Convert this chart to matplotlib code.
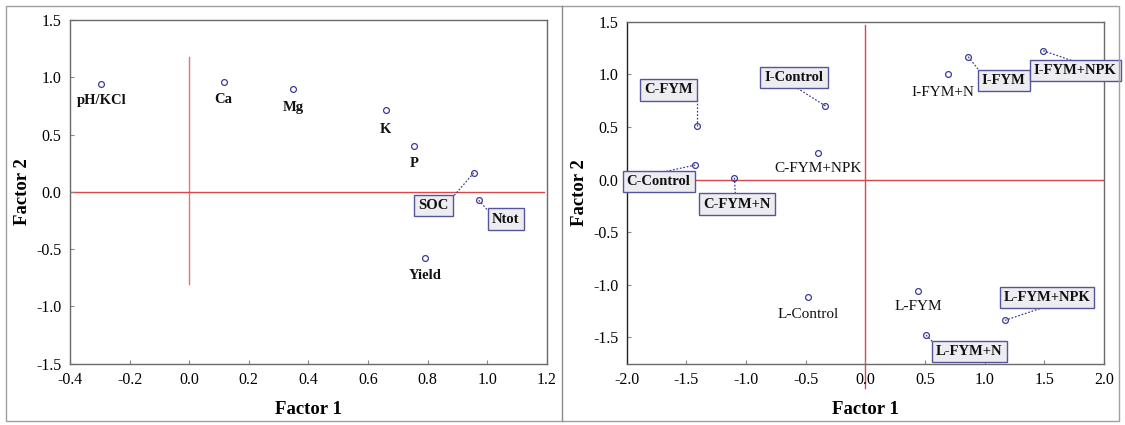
import matplotlib
matplotlib.use("Agg")
import matplotlib.pyplot as plt
from matplotlib.patches import Rectangle
from matplotlib.lines import Line2D

# ---------------- data ----------------
var_names = ["pH/KCl", "Ca", "Mg", "K", "P", "SOC", "Ntot", "Yield"]
var_f1 = [-0.297, 0.116, 0.350, 0.660, 0.754, 0.955, 0.972, 0.790]
var_f2 = [0.938, 0.955, 0.894, 0.711, 0.396, 0.165, -0.073, -0.580]

trt_names = ["C-FYM", "C-Control", "C-FYM+N", "I-Control", "C-FYM+NPK",
             "I-FYM+N", "I-FYM", "I-FYM+NPK", "L-Control", "L-FYM",
             "L-FYM+N", "L-FYM+NPK"]
trt_f1 = [-1.411, -1.426, -1.097, -0.334, -0.397, 0.690, 0.862, 1.490,
          -0.478, 0.442, 0.509, 1.170]
trt_f2 = [0.511, 0.138, 0.017, 0.699, 0.249, 1.003, 1.167, 1.224,
          -1.114, -1.063, -1.478, -1.338]

left_xticks = [-0.4, -0.2, 0.0, 0.2, 0.4, 0.6, 0.8, 1.0, 1.2]
left_yticks = [-1.5, -1.0, -0.5, 0.0, 0.5, 1.0, 1.5]
right_xticks = [-2.0, -1.5, -1.0, -0.5, 0.0, 0.5, 1.0, 1.5, 2.0]
right_yticks = [-1.5, -1.0, -0.5, 0.0, 0.5, 1.0, 1.5]

# ---------------- layout (label placement) ----------------
# label: (text x, text y, boxed, leader end x, leader end y or None)
left_layout = {
    "pH/KCl": (-0.292, 0.80, False, None, None),
    "Ca": (0.116, 0.81, False, None, None),
    "Mg": (0.350, 0.737, False, None, None),
    "K": (0.660, 0.548, False, None, None),
    "P": (0.754, 0.247, False, None, None),
    "SOC": (0.820, -0.117, True, 0.885, -0.045),
    "Ntot": (1.063, -0.237, True, 1.000, -0.155),
    "Yield": (0.791, -0.728, False, None, None),
}
right_layout = {
    "C-FYM": (-1.648, 0.851, True, -1.411, 0.77),
    "C-Control": (-1.733, -0.016, True, -1.683, 0.074),
    "C-FYM+N": (-1.075, -0.233, True, -1.090, -0.14),
    "I-Control": (-0.598, 0.967, True, -0.581, 0.876),
    "C-FYM+NPK": (-0.397, 0.106, False, None, None),
    "I-FYM+N": (0.648, 0.825, False, None, None),
    "I-FYM": (1.159, 0.938, True, 0.958, 1.03),
    "I-FYM+NPK": (1.759, 1.033, True, 1.759, 1.12),
    "L-Control": (-0.481, -1.281, False, None, None),
    "L-FYM": (0.448, -1.209, False, None, None),
    "L-FYM+N": (0.872, -1.637, True, 0.566, -1.545),
    "L-FYM+NPK": (1.522, -1.122, True, 1.532, -1.20),
}

FONT = ["Liberation Serif", "DejaVu Serif"]
plt.rcParams["font.family"] = FONT
plt.rcParams["axes.unicode_minus"] = False
MARK = "#3c3c9c"
RED = "#d9474b"
BOXFACE = "#ececf1"
BOXEDGE = "#55559a"

fig = plt.figure(figsize=(11.25, 4.25), dpi=100)

ax1 = fig.add_axes([70 / 1125, 1 - 363.7 / 425, 476.7 / 1125, 343.7 / 425])
ax2 = fig.add_axes([626.7 / 1125, 1 - 363.7 / 425, 477.3 / 1125, 342.0 / 425])


def style_axes(ax, xticks, yticks, xlim, ylim):
    ax.set_xlim(*xlim)
    ax.set_ylim(*ylim)
    ax.set_xticks(xticks)
    ax.set_yticks(yticks)
    ax.set_xticklabels([f"{v:.1f}" for v in xticks])
    ax.set_yticklabels([f"{v:.1f}" for v in yticks])
    ax.tick_params(axis="both", direction="in", length=3, width=0.8,
                   color="#888888", labelsize=11.5, pad=6)
    for s in ax.spines.values():
        s.set_color("#6a6a6a")
        s.set_linewidth(1.0)
    ax.set_xlabel("Factor 1", fontsize=13.5, fontweight="bold")
    ax.set_ylabel("Factor 2", fontsize=13.5, fontweight="bold")


style_axes(ax1, left_xticks, left_yticks, (-0.4, 1.2), (-1.5, 1.5))
style_axes(ax2, right_xticks, right_yticks, (-2.0, 2.0), (-1.75, 1.5))
ax1.xaxis.set_label_coords(0.5, -0.108)
ax1.yaxis.set_label_coords(-0.082, 0.5)
ax2.xaxis.set_label_coords(0.5, -0.108)
ax2.yaxis.set_label_coords(-0.081, 0.5)
ax2.spines["left"].set_color("#222222")

# red reference lines
ax1.plot([0, 0], [-0.8, 1.18], color=RED, lw=1.0, alpha=0.75, zorder=1)
ax1.plot([-0.4, 1.19], [0, 0], color=RED, lw=1.0, zorder=1)
ax2.plot([0, 0], [-1.98, 1.47], color=RED, lw=1.0, zorder=1, clip_on=False)
ax2.plot([-2.0, 2.0], [0, 0], color=RED, lw=1.0, zorder=1)


def draw_panel(ax, names, xs, ys, layout, fs_box, fs_plain, bold_all):
    ax.plot(xs, ys, linestyle="none", marker="o", markersize=4.2,
            markerfacecolor="none", markeredgecolor=MARK,
            markeredgewidth=0.9, zorder=4)
    for n, x, y in zip(names, xs, ys):
        tx, ty, boxed, lx, ly = layout[n]
        if lx is not None:
            ax.add_line(Line2D([x, lx], [y, ly], color=MARK, lw=0.9,
                               linestyle=(0, (1.4, 1.4)), zorder=3,
                               clip_on=False))
        kw = dict(ha="center", va="center",
                  fontsize=fs_box if boxed else fs_plain,
                  fontweight="bold" if (bold_all or boxed) else "normal",
                  color="#111111", zorder=6, clip_on=False)
        if boxed:
            kw["bbox"] = dict(boxstyle="square,pad=0.28", facecolor=BOXFACE,
                              edgecolor=BOXEDGE, linewidth=1.0)
        ax.text(tx, ty, n, **kw)


draw_panel(ax1, var_names, var_f1, var_f2, left_layout, 10.5, 10.5, True)
draw_panel(ax2, trt_names, trt_f1, trt_f2, right_layout, 10.5, 11, False)

# outer frame and divider
fig.add_artist(Rectangle((6 / 1125, 1 - 421 / 425), (1119 - 6) / 1125,
                         (421 - 6) / 425, transform=fig.transFigure,
                         fill=False, edgecolor="#a0a0a0", lw=1.0))
fig.add_artist(Line2D([562 / 1125, 562 / 1125], [1 - 421 / 425, 1 - 6 / 425],
                      transform=fig.transFigure, color="#8a8a8a", lw=1.0))

fig.savefig("out.png", dpi=100)
